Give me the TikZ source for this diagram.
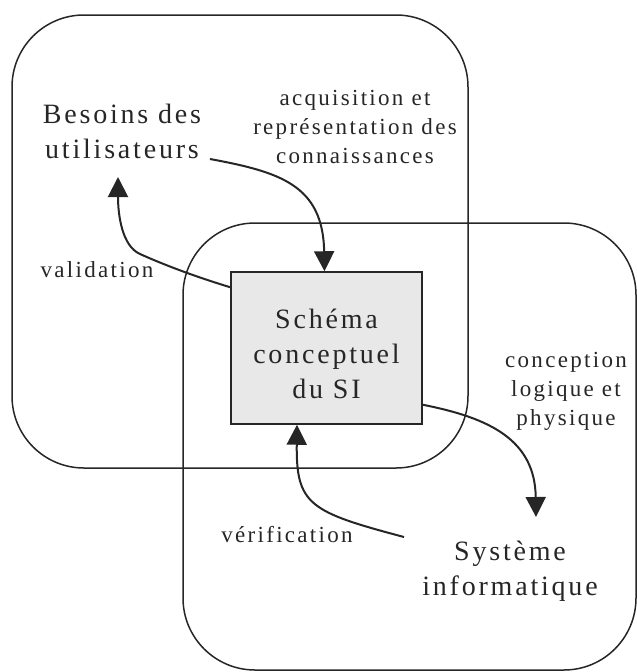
\documentclass[tikz,border=0pt]{standalone}
\usepackage{fontspec}
\newfontfamily\garfont{Liberation Serif}[LetterSpace=10]
\usetikzlibrary{arrows.meta}
\begin{document}
\begin{tikzpicture}[x=1pt,y=-1pt,
  zone/.style={draw=black!85, line width=1.5pt, rounded corners=72pt, inner sep=0pt},
  bigtxt/.style={font=\garfont\fontsize{28}{35}\selectfont, align=center, inner sep=0pt, anchor=base, text=black!85},
  smalltxt/.style={font=\garfont\fontsize{23}{29}\selectfont, align=center, inner sep=0pt, anchor=base, text=black!85},
  flow/.style={draw=black!85, line width=2pt, -{Triangle[length=20pt,width=20pt]}}]
\useasboundingbox (0,0) rectangle (637,672);
% zones
\node[zone, minimum width=456pt, minimum height=453pt] (z1) at (240,241.5) {};
\node[zone, minimum width=453pt, minimum height=447pt] (z2) at (409.5,446.5) {};
% central box
\node[draw=black!85, line width=1.5pt, fill=black!9, minimum width=191pt, minimum height=152pt, inner sep=0pt] (schema) at (326.5,348) {};
\node[bigtxt] (schematxt) at (326.5,398) {Schéma\\conceptuel\\du SI};
% texts
\node[bigtxt] (besoins) at (122,158) {Besoins des\\utilisateurs};
\node[smalltxt] (acq) at (355,163) {acquisition et\\représentation des\\connaissances};
\node[smalltxt] (valid) at (97,277) {validation};
\node[smalltxt] (concep) at (566,425) {conception\\logique et\\physique};
\node[smalltxt] (verif) at (287,542) {vérification};
\node[bigtxt] (systeme) at (510,595) {Système\\informatique};
% connector ends
\coordinate (a0) at (210,159);
\coordinate (vm) at (140,254);
\coordinate (vt) at (118,177);
\coordinate (ct) at (536,517);
\coordinate (w0) at (404,537);
% arrows
\draw[flow] (a0) .. controls (280,172) and (323,185) .. ([xshift=-2pt]schema.north);
\draw[flow] ([yshift=-16pt]schema.north west) .. controls (190,275) and (160,263) .. (vm) .. controls (122,246) and (118,215) .. (vt);
\draw[flow] ([yshift=20pt]schema.south east) .. controls (490,418) and (535,440) .. (ct);
\draw[flow] (w0) .. controls (310,512) and (296,505) .. ([xshift=-29.5pt]schema.south);
\end{tikzpicture}
\end{document}
